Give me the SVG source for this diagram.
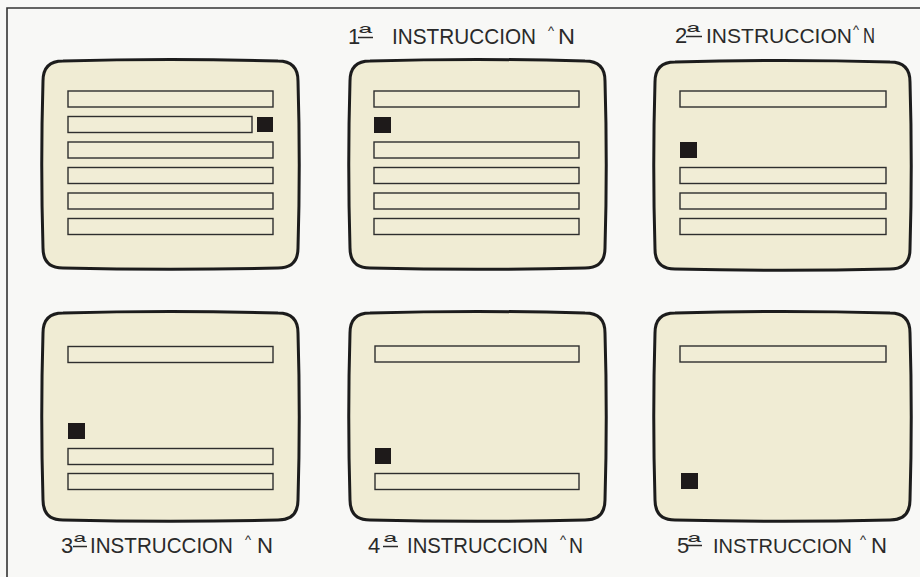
<svg xmlns="http://www.w3.org/2000/svg" xmlns:xlink="http://www.w3.org/1999/xlink" width="920" height="577" viewBox="0 0 920 577">
<style>
.crt{fill:#f0ecd4;stroke:#1c1c1c;stroke-width:3}
.bar{fill:#f1edd6;stroke:#2e2e2e;stroke-width:1.4}
.cur{fill:#1e1a1a}
.lbl{font-family:"Liberation Sans",Arial,sans-serif;font-size:22px;fill:#2a2a2a}
.sup{font-size:18px}
.car{font-size:13px}
.ul{stroke:#2a2a2a;stroke-width:1.5}
.frame{fill:none;stroke:#333;stroke-width:1.6}
</style>
<defs>
<path id="crtShape" d="M20,0 Q127.5,-3 235,0 Q255,0 255,20 Q257.5,103.5 255,187 Q255,207 235,207 Q127.5,209.5 20,207 Q0,207 0,187 Q-2.5,103.5 0,20 Q0,0 20,0 Z"/>
</defs>
<rect width="920" height="577" fill="#f8f8f6"/>
<path class="frame" d="M7,577 V8 H920"/>

<g id="screen1">
<use xlink:href="#crtShape" class="crt" x="43" y="61"/>
<rect class="bar" x="68" y="91" width="205" height="16"/>
<rect class="bar" x="68" y="116.5" width="184" height="16"/>
<rect class="cur" x="257" y="117" width="16" height="15"/>
<rect class="bar" x="68" y="142" width="205" height="16"/>
<rect class="bar" x="68" y="167.5" width="205" height="16"/>
<rect class="bar" x="68" y="193" width="205" height="16"/>
<rect class="bar" x="68" y="218.5" width="205" height="16"/>
</g>

<g id="screen2">
<use xlink:href="#crtShape" class="crt" x="350" y="61"/>
<rect class="bar" x="374" y="91" width="205" height="16"/>
<rect class="cur" x="374" y="117" width="17" height="16"/>
<rect class="bar" x="374" y="142" width="205" height="16"/>
<rect class="bar" x="374" y="167.5" width="205" height="16"/>
<rect class="bar" x="374" y="193" width="205" height="16"/>
<rect class="bar" x="374" y="218.5" width="205" height="16"/>
</g>

<g id="screen3">
<use xlink:href="#crtShape" class="crt" x="655" y="62"/>
<rect class="bar" x="680" y="91" width="206" height="16"/>
<rect class="cur" x="680" y="142" width="17" height="16"/>
<rect class="bar" x="680" y="167.5" width="206" height="16"/>
<rect class="bar" x="680" y="193" width="206" height="16"/>
<rect class="bar" x="680" y="218.5" width="206" height="16"/>
</g>

<g id="screen4">
<use xlink:href="#crtShape" class="crt" x="43" y="313"/>
<rect class="bar" x="68" y="346.5" width="205" height="16"/>
<rect class="cur" x="68" y="423" width="17" height="16"/>
<rect class="bar" x="68" y="448.5" width="205" height="16"/>
<rect class="bar" x="68" y="473.5" width="205" height="16"/>
</g>

<g id="screen5">
<use xlink:href="#crtShape" class="crt" x="350" y="313"/>
<rect class="bar" x="375" y="346" width="204" height="16"/>
<rect class="cur" x="375" y="448" width="16" height="16"/>
<rect class="bar" x="375" y="473.5" width="204" height="16"/>
</g>

<g id="screen6">
<use xlink:href="#crtShape" class="crt" x="655" y="313"/>
<rect class="bar" x="680" y="346" width="206" height="16"/>
<rect class="cur" x="681" y="473" width="17" height="16"/>
</g>

<g id="label1">
<text class="lbl" y="44"><tspan x="348">1</tspan><tspan class="sup" x="359" dy="-5" textLength="13" lengthAdjust="spacingAndGlyphs">ª</tspan> <tspan x="392" dy="5" textLength="144" lengthAdjust="spacingAndGlyphs">INSTRUCCION</tspan> <tspan class="car" x="548" dy="-9">^</tspan><tspan x="558" dy="9" textLength="17" lengthAdjust="spacingAndGlyphs">N</tspan></text>
<line class="ul" x1="358" y1="37.5" x2="373" y2="37.5"/>
</g>
<g id="label2">
<text class="lbl" y="43"><tspan x="675">2</tspan><tspan class="sup" x="687" dy="-5" textLength="13" lengthAdjust="spacingAndGlyphs">ª</tspan><tspan x="706" dy="5" font-size="21" textLength="146" lengthAdjust="spacingAndGlyphs">INSTRUCCION</tspan> <tspan class="car" x="853" dy="-9">^</tspan><tspan x="863" dy="9" textLength="12" lengthAdjust="spacingAndGlyphs">N</tspan></text>
<line class="ul" x1="686" y1="36.5" x2="702" y2="36.5"/>
</g>
<g id="label3">
<text class="lbl" y="553"><tspan x="61">3</tspan><tspan class="sup" x="74" dy="-5" textLength="12" lengthAdjust="spacingAndGlyphs">ª</tspan><tspan x="90" dy="5" textLength="143" lengthAdjust="spacingAndGlyphs">INSTRUCCION</tspan> <tspan class="car" x="245" dy="-9">^</tspan><tspan x="257" dy="9" textLength="16" lengthAdjust="spacingAndGlyphs">N</tspan></text>
<line class="ul" x1="73" y1="546.5" x2="87" y2="546.5"/>
</g>
<g id="label4">
<text class="lbl" y="553"><tspan x="368">4</tspan><tspan class="sup" x="384" dy="-5" textLength="13" lengthAdjust="spacingAndGlyphs">ª</tspan> <tspan x="407" dy="5" textLength="141" lengthAdjust="spacingAndGlyphs">INSTRUCCION</tspan> <tspan class="car" x="560" dy="-9">^</tspan><tspan x="569" dy="9" textLength="14" lengthAdjust="spacingAndGlyphs">N</tspan></text>
<line class="ul" x1="383" y1="546.5" x2="398" y2="546.5"/>
</g>
<g id="label5">
<text class="lbl" y="553"><tspan x="677">5</tspan><tspan class="sup" x="688" dy="-5" textLength="13" lengthAdjust="spacingAndGlyphs">ª</tspan> <tspan x="713" dy="5" font-size="21" textLength="139" lengthAdjust="spacingAndGlyphs">INSTRUCCION</tspan> <tspan class="car" x="860" dy="-9">^</tspan><tspan x="871" dy="9" textLength="16" lengthAdjust="spacingAndGlyphs">N</tspan></text>
<line class="ul" x1="687" y1="545.5" x2="702" y2="545.5"/>
</g>
</svg>
